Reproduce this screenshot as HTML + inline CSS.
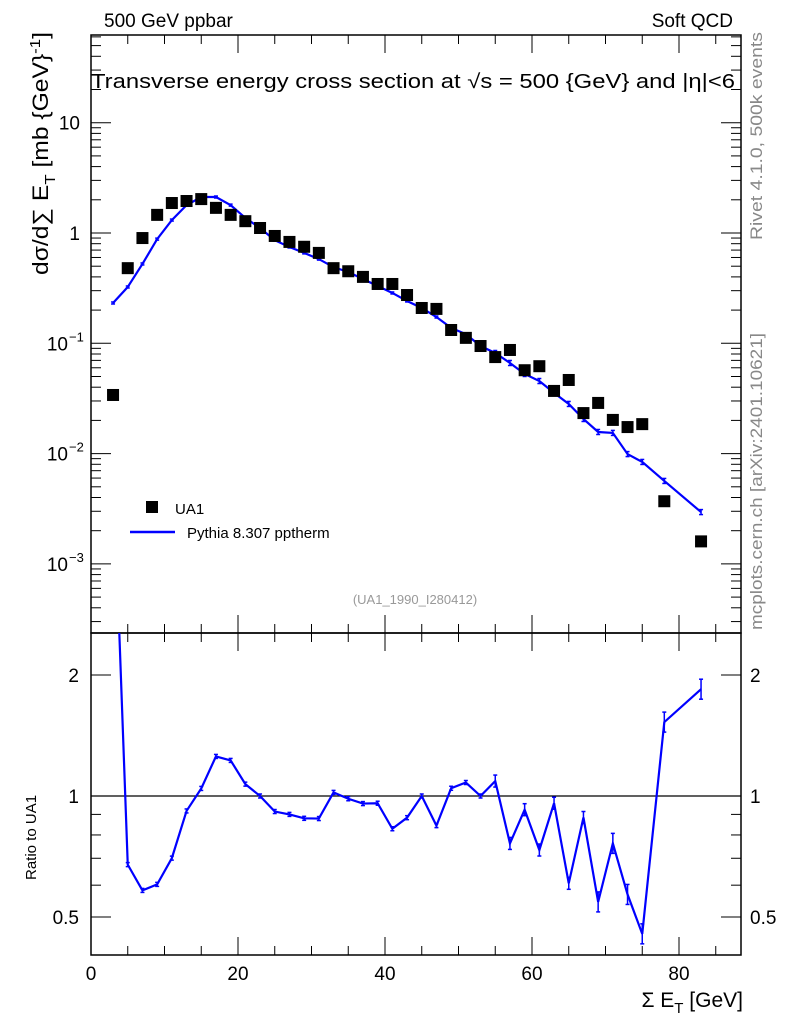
<!DOCTYPE html>
<html><head><meta charset="utf-8"><style>
body{margin:0;background:#fff;}
svg{display:block;font-family:"Liberation Sans",sans-serif;}
</style></head><body>
<svg id="chart" width="786" height="1024" viewBox="0 0 786 1024" xmlns="http://www.w3.org/2000/svg">
<g id="gtop"></g>
<g id="gbot"></g>
<text x="104" y="27" font-size="19">500 GeV ppbar</text>
<text x="733" y="27" font-size="19" text-anchor="end">Soft QCD</text>
<text x="91" y="88" font-size="20" textLength="644" lengthAdjust="spacingAndGlyphs">Transverse energy cross section at √s = 500 {GeV} and |η|&lt;6</text>
<text transform="translate(48,275) rotate(-90)" font-size="22" textLength="243" lengthAdjust="spacingAndGlyphs">dσ/d∑ E<tspan font-size="15" dy="7">T</tspan><tspan dy="-7"> [mb {GeV}</tspan><tspan font-size="15" dy="-8">-1</tspan><tspan dy="8">]</tspan></text>
<text transform="translate(36,880) rotate(-90)" font-size="15">Ratio to UA1</text>
<text x="743" y="1007" font-size="21" text-anchor="end">Σ E<tspan font-size="15" dy="6">T</tspan><tspan dy="-6"> [GeV]</tspan></text>
<text transform="translate(762,240) rotate(-90)" font-size="17" fill="#888" textLength="208" lengthAdjust="spacingAndGlyphs">Rivet 4.1.0,  500k events</text>
<text transform="translate(762,630) rotate(-90)" font-size="17" fill="#888" textLength="297" lengthAdjust="spacingAndGlyphs">mcplots.cern.ch [arXiv:2401.10621]</text>
<text x="415" y="604" font-size="13" fill="#999" text-anchor="middle">(UA1_1990_I280412)</text>
<rect x="146" y="501" width="12" height="12" fill="#000"/>
<text x="175" y="514" font-size="15">UA1</text>
<line x1="130" y1="532" x2="175" y2="532" stroke="#00f" stroke-width="2.5"/>
<text x="187" y="538" font-size="15">Pythia 8.307 pptherm</text>
</svg>
<script>
const xs=[3,5,7,9,11,13,15,17,19,21,23,25,27,29,31,33,35,37,39,41,43,45,47,49,51,53,55,57,59,61,63,65,67,69,71,73,75,78,83];
const ua1=[0.034,0.48,0.90,1.46,1.87,1.95,2.03,1.69,1.46,1.28,1.11,0.94,0.83,0.75,0.66,0.48,0.45,0.40,0.345,0.345,0.274,0.209,0.205,0.132,0.112,0.0945,0.075,0.087,0.057,0.062,0.037,0.0465,0.0233,0.0288,0.0202,0.0174,0.0185,0.0037,0.0016];
const pythia=[0.232,0.324,0.524,0.88,1.31,1.79,2.12,2.12,1.79,1.37,1.11,0.86,0.747,0.66,0.58,0.49,0.443,0.383,0.331,0.286,0.242,0.209,0.173,0.138,0.121,0.0945,0.0817,0.0663,0.0527,0.0455,0.0355,0.0282,0.0206,0.0157,0.0154,0.0099,0.0084,0.00565,0.00295];
const xTicks=[0,20,40,60,80];
(function(){
const NS='http://www.w3.org/2000/svg';
const L=91,R=741,T1=35,B1=633,T2=633,B2=955;
const X=v=>L+v*7.35;
const Y=v=>233-Math.log10(v)*110.3;
const YR=r=>796-Math.log2(r)*121;
function mk(p,tag,a){const e=document.createElementNS(NS,tag);for(const k in a)e.setAttribute(k,a[k]);p.appendChild(e);return e;}
const gTop=document.getElementById('gtop'),gBot=document.getElementById('gbot');
const svg=document.getElementById('chart');
const defs=mk(svg,'defs',{});
const c1=mk(defs,'clipPath',{id:'c1'});mk(c1,'rect',{x:L,y:T1,width:R-L,height:B1-T1});
const c2=mk(defs,'clipPath',{id:'c2'});mk(c2,'rect',{x:L,y:T2,width:R-L,height:B2-T2});
for(const [g,t,b] of [[gTop,T1,B1],[gBot,T2,B2]]){
 const f=mk(g,'rect',{x:L,y:t,width:R-L,height:b-t,fill:'none',stroke:'#000','stroke-width':1.5});
 
 
 for(let v=0;v<=88;v+=5){const big=v%20===0;const len=big?18:9;
  mk(g,'line',{x1:X(v),x2:X(v),y1:b,y2:b-len,stroke:'#000'});
  mk(g,'line',{x1:X(v),x2:X(v),y1:t,y2:t+len,stroke:'#000'});}
}
xTicks.forEach(v=>{const t=mk(gBot,'text',{x:X(v),y:980,'font-size':19,'text-anchor':'middle'});t.textContent=v;
 
 });
for(let d=-4;d<=1;d++){for(let m=1;m<10;m++){const v=m*Math.pow(10,d);const y=Y(v);if(y<T1||y>B1)continue;const len=m===1?20:10;
 mk(gTop,'line',{x1:L,x2:L+len,y1:y,y2:y,stroke:'#000'});mk(gTop,'line',{x1:R,x2:R-len,y1:y,y2:y,stroke:'#000'});}}
const yl=[[10,'10'],[1,'1'],[0.1,'10'],[0.01,'10'],[0.001,'10']];const ex=['','','−1','−2','−3'];
yl.forEach(([v,s],i)=>{const t=mk(gTop,'text',{x:ex[i]?68:80,y:Y(v)+7,'font-size':19,'text-anchor':'end'});t.textContent=s;
 
 
 if(ex[i]){const s2=mk(gTop,'text',{x:69,y:Y(v)-2,'font-size':13});s2.textContent=ex[i];}});
[0.4,0.5,0.6,0.7,0.8,0.9,1,2].forEach(r=>{const y=YR(r);if(y<T2||y>B2)return;const big=(r===0.5||r===1||r===2);const len=big?20:10;
 mk(gBot,'line',{x1:L,x2:L+len,y1:y,y2:y,stroke:'#000'});mk(gBot,'line',{x1:R,x2:R-len,y1:y,y2:y,stroke:'#000'});
 if(big){const lab=String(r);
 const t=mk(gBot,'text',{x:79,y:y+7,'font-size':19,'text-anchor':'end'});t.textContent=lab;
 const t2=mk(gBot,'text',{x:750,y:y+7,'font-size':19});t2.textContent=lab;}});
mk(gBot,'line',{x1:L,x2:R,y1:YR(1),y2:YR(1),stroke:'#000','stroke-width':1.2});
const gT=mk(gTop,'g',{'clip-path':'url(#c1)'});
const pl=mk(gT,'polyline',{points:xs.map((x,i)=>X(x)+','+Y(pythia[i])).join(' '),fill:'none',stroke:'#00f','stroke-width':2.2});


xs.forEach((x,i)=>{const y=Y(pythia[i]);const e=i>25?2.5:1;
 mk(gT,'line',{x1:X(x),x2:X(x),y1:y-e,y2:y+e,stroke:'#00f','stroke-width':1.5});
 mk(gT,'line',{x1:X(x)-2,x2:X(x)+2,y1:y-e,y2:y-e,stroke:'#00f','stroke-width':1.5});
 mk(gT,'line',{x1:X(x)-2,x2:X(x)+2,y1:y+e,y2:y+e,stroke:'#00f','stroke-width':1.5});});
xs.forEach((x,i)=>{const r=mk(gT,'rect',{x:X(x)-6,y:Y(ua1[i])-6,width:12,height:12,fill:'#000'});
 
 });
const gB=mk(gBot,'g',{'clip-path':'url(#c2)'});
const ratio=xs.map((x,i)=>pythia[i]/ua1[i]);
const rl=mk(gB,'polyline',{points:xs.map((x,i)=>X(x)+','+YR(ratio[i])).join(' '),fill:'none',stroke:'#00f','stroke-width':2.2});


xs.forEach((x,i)=>{const y=YR(ratio[i]);const e=i>25?(i>32?10:6):2;
 mk(gB,'line',{x1:X(x),x2:X(x),y1:y-e,y2:y+e,stroke:'#00f','stroke-width':1.5});
 mk(gB,'line',{x1:X(x)-2,x2:X(x)+2,y1:y-e,y2:y-e,stroke:'#00f','stroke-width':1.5});
 mk(gB,'line',{x1:X(x)-2,x2:X(x)+2,y1:y+e,y2:y+e,stroke:'#00f','stroke-width':1.5});});
})();
</script>
</body></html>
